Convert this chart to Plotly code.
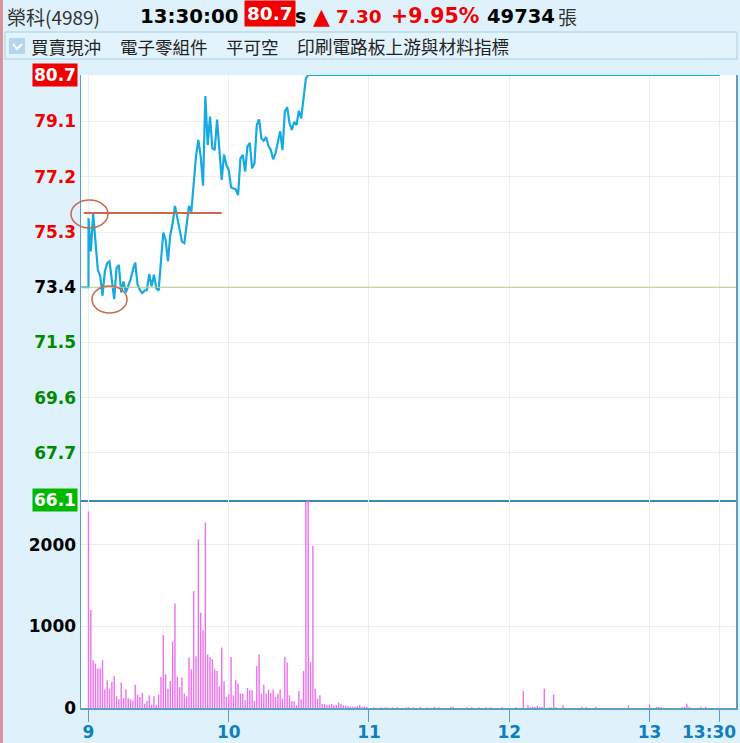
import plotly.graph_objects as go
from plotly.subplots import make_subplots

W, H = 740, 743
CJK = "Noto Sans CJK TC"
BOLD = "DejaVu Sans"

# 分時資料 (09:00 起算的分鐘)
price_values = [
    75.78, 74.63, 75.93, 74.86, 74.00, 73.79, 73.11, 73.94, 74.23, 74.29,
    73.66, 72.99, 74.06, 74.17, 73.22, 73.60, 73.22, 73.43, 73.66, 74.00,
    74.25, 73.49, 73.31, 73.20, 73.28, 73.31, 73.86, 73.43, 73.83, 73.37,
    73.28, 74.29, 75.28, 75.03, 74.29, 75.20, 75.60, 76.20, 75.78, 75.32,
    74.97, 74.92, 75.55, 76.20, 76.00, 76.98, 77.90, 78.47, 77.90, 76.89,
    79.98, 78.29, 79.27, 78.18, 78.12, 79.17, 78.00, 77.09, 77.97, 77.60,
    77.43, 76.84, 76.80, 76.77, 76.57, 77.83, 77.95, 77.38, 78.24, 78.37,
    77.49, 77.66, 78.98, 79.17, 78.52, 78.44, 78.56, 78.26, 78.12, 77.80,
    78.00, 78.41, 78.77, 78.12, 79.44, 79.59, 79.04, 78.81, 79.09, 78.98,
    79.47, 79.21, 79.95, 80.58, 80.70,
]
prev_close = 73.4
limit_up = 80.7
limit_down = 66.1
close_minute = 270

volume_values = [
    2405, 1198, 585, 544, 483, 483, 585, 225, 340, 237,
    319, 389, 143, 106, 311, 123, 225, 123, 106, 94,
    286, 164, 135, 188, 53, 82, 155, 41, 143, 41,
    164, 380, 892, 413, 237, 331, 810, 1280, 380, 258,
    372, 176, 143, 618, 474, 1431, 634, 2065, 1166, 953,
    2270, 654, 625, 597, 474, 454, 266, 740, 327, 135,
    168, 625, 155, 340, 299, 176, 176, 94, 245, 217,
    217, 86, 511, 654, 176, 286, 176, 225, 184, 225,
    135, 176, 225, 115, 625, 556, 155, 82, 82, 33,
    209, 106, 454, 2528, 2600, 564, 1984, 237, 115, 155,
    49, 49, 40, 40, 49, 33, 40, 70, 49, 33,
    29, 25, 16, 16, 16, 25, 37, 12, 16, 12,
]
tail_minutes = [122, 125, 127, 128, 130, 132, 136, 137, 139, 142, 145, 148, 150, 155, 156,
                162, 164, 167, 170, 172, 177, 183, 186, 188, 189, 190, 191, 192, 193, 194,
                195, 197, 198, 199, 200, 203, 211, 213, 217, 231, 240, 243, 244, 245, 254,
                255, 256, 257, 262, 264]
tail_values = [8, 8, 8, 8, 8, 8, 8, 8, 8, 12, 8, 16, 8, 16, 12,
               8, 8, 8, 8, 8, 8, 8, 209, 33, 8, 12, 12, 25, 12, 12,
               237, 8, 8, 164, 8, 33, 15, 12, 15, 33, 45, 12, 12, 12, 12,
               12, 53, 12, 16, 16]

price_ticks = [79.1, 77.2, 75.3, 73.4, 71.5, 69.6, 67.7]
volume_ticks = [0, 1000, 2000]
hour_ticks = [0, 60, 120, 180, 240, 270]
hour_labels = ["9", "10", "11", "12", "13", ""]
support_price = 75.95
support_minutes = [-2, 57]


def px(x):
    return x / W


def py(y):
    return 1 - y / H


def price_label(v):
    if v > prev_close:
        c = "#f00000"
    elif v < prev_close:
        c = "#008a00"
    else:
        c = "#000000"
    return f'<b><span style="color:{c}">{v:.1f}</span></b>'


minutes = list(range(len(price_values)))
line_x = [-3, 0] + minutes + [close_minute]
line_y = [prev_close, prev_close] + price_values + [limit_up]
bar_x = list(range(len(volume_values))) + tail_minutes
bar_y = volume_values + tail_values

fig = make_subplots(rows=2, cols=1, shared_xaxes=True)
fig.add_trace(go.Scatter(x=line_x, y=line_y, mode="lines", cliponaxis=False,
                         line=dict(color="#15aae2", width=2.2), hoverinfo="skip"), row=1, col=1)
fig.add_trace(go.Bar(x=bar_x, y=bar_y, width=0.6, marker=dict(color="#ee70ee", line_width=0),
                     hoverinfo="skip"), row=2, col=1)

x_range = [-3.2, 277]
grid = "#ededed"
frame = "#5a9fc8"
fig.update_layout(
    width=W, height=H, showlegend=False,
    margin=dict(l=0, r=0, t=0, b=0),
    paper_bgcolor="#dff2fc", plot_bgcolor="#ffffff",
    xaxis=dict(domain=[px(81), px(736)], range=x_range, anchor="y", automargin=False,
               tickvals=hour_ticks, ticktext=[""] * 6, ticks="", showgrid=True, gridcolor=grid,
               showline=True, linecolor="#3f87ad", linewidth=2, mirror=False, zeroline=False),
    xaxis2=dict(domain=[px(81), px(736)], range=x_range, anchor="y2", matches="x", automargin=False,
                tickvals=hour_ticks, ticktext=[f"<b>{t}</b>" for t in hour_labels],
                ticks="outside", ticklen=12, tickcolor=frame, tickwidth=1, ticklabelstandoff=-4,
                tickfont=dict(family=BOLD, size=17, color="#0f7fc0"),
                showgrid=True, gridcolor=grid, showline=True, linecolor=frame, linewidth=1.5,
                mirror=False, zeroline=False),
    yaxis=dict(domain=[py(499.5), py(75)], range=[limit_down, limit_up], anchor="x", automargin=False,
               tickvals=price_ticks, ticktext=[price_label(v) for v in price_ticks],
               tickfont=dict(family=BOLD, size=17), showgrid=True, gridcolor=grid,
               showline=True, linecolor=frame, linewidth=1.5, mirror=True, zeroline=False),
    yaxis2=dict(domain=[py(708), py(499.5)], range=[0, 2552], anchor="x2", automargin=False,
                tickvals=volume_ticks, ticktext=[f"<b>{v}</b>" for v in volume_ticks],
                tickfont=dict(family=BOLD, size=17, color="#000000"), showgrid=True, gridcolor=grid,
                showline=True, linecolor=frame, linewidth=1.5, mirror=True, zeroline=False),
)

shapes = [
    # 左側粉紅條
    dict(type="rect", xref="paper", yref="paper", x0=0, x1=px(3), y0=0, y1=1,
         fillcolor="#d8939f", line_width=0, layer="below"),
    # 工具列
    dict(type="rect", xref="paper", yref="paper", x0=px(5), x1=px(737), y0=py(59), y1=py(32),
         fillcolor="#e3f3fc", line=dict(color="#a8cfe2", width=1), layer="below"),
    dict(type="rect", xref="paper", yref="paper", x0=px(9), x1=px(25), y0=py(54), y1=py(38),
         fillcolor="#b5d6ec", line_width=0),
    dict(type="path", xref="paper", yref="paper", line=dict(color="#ffffff", width=2),
         path=f"M {px(13)} {py(44)} L {px(17)} {py(49)} L {px(22)} {py(44)}"),
    # 平盤線
    dict(type="line", xref="x", yref="y", x0=x_range[0], x1=x_range[1], y0=prev_close, y1=prev_close,
         line=dict(color="#bcc98a", width=1)),
    # 手繪標記
    dict(type="line", xref="x", yref="y", x0=support_minutes[0], x1=support_minutes[1],
         y0=support_price, y1=support_price, line=dict(color="#c9694d", width=2)),
    dict(type="circle", xref="paper", yref="paper", x0=px(71), x1=px(108), y0=py(228), y1=py(200),
         line=dict(color="#c9694d", width=1.5)),
    dict(type="circle", xref="paper", yref="paper", x0=px(92), x1=px(127), y0=py(313), y1=py(286),
         line=dict(color="#c9694d", width=1.5)),
]
fig.update_layout(shapes=shapes)


def label(x, y, text, size, color="#000000", family=CJK, bg=None, anchor="left", pad=0):
    fig.add_annotation(xref="paper", yref="paper", x=px(x), y=py(y), text=text, showarrow=False,
                       xanchor=anchor, yanchor="middle", align="left", borderpad=pad,
                       bgcolor=bg, font=dict(family=family, size=size, color=color))


# 標題列
label(6, 16, "榮科(4989)", 19, "#333333")
label(139, 16, "<b>13:30:00</b>", 19.8, family=BOLD)
label(244, 14, "<b>80.7</b>", 18.5, "#ffffff", BOLD, "#f00000", pad=2)
label(294, 16, "<b>s</b>", 19, family=BOLD)
label(312, 16, "▲", 22, "#f00000", family=BOLD)
label(335, 16, "<b>7.30</b>", 18.5, "#f00000", BOLD)
label(390, 16, "<b>+9.95%</b>", 20.5, "#f00000", BOLD)
label(486, 16, "<b>49734</b>", 19.5, family=BOLD)
label(557, 16, "張", 19, "#333333")

# 工具列文字
label(30, 46, "買賣現沖", 17.5, "#222222")
label(119, 46, "電子零組件", 17.5, "#222222")
label(225, 46, "平可空", 17.5, "#222222")
label(296, 46, "印刷電路板上游與材料指標", 17.7, "#222222")

# 漲跌停價
label(78, 75, "<b>80.7</b>", 17, "#ffffff", BOLD, "#f00000", anchor="right", pad=1)
label(78, 500, "<b>66.1</b>", 17, "#ffffff", BOLD, "#00b800", anchor="right", pad=1)
# 13:30 標籤偏左
label(709, 732, "<b>13:30</b>", 17, "#0f7fc0", BOLD, anchor="center")

fig.write_html("out.html", config={"staticPlot": True},
               post_script="document.body.style.margin='0';")
